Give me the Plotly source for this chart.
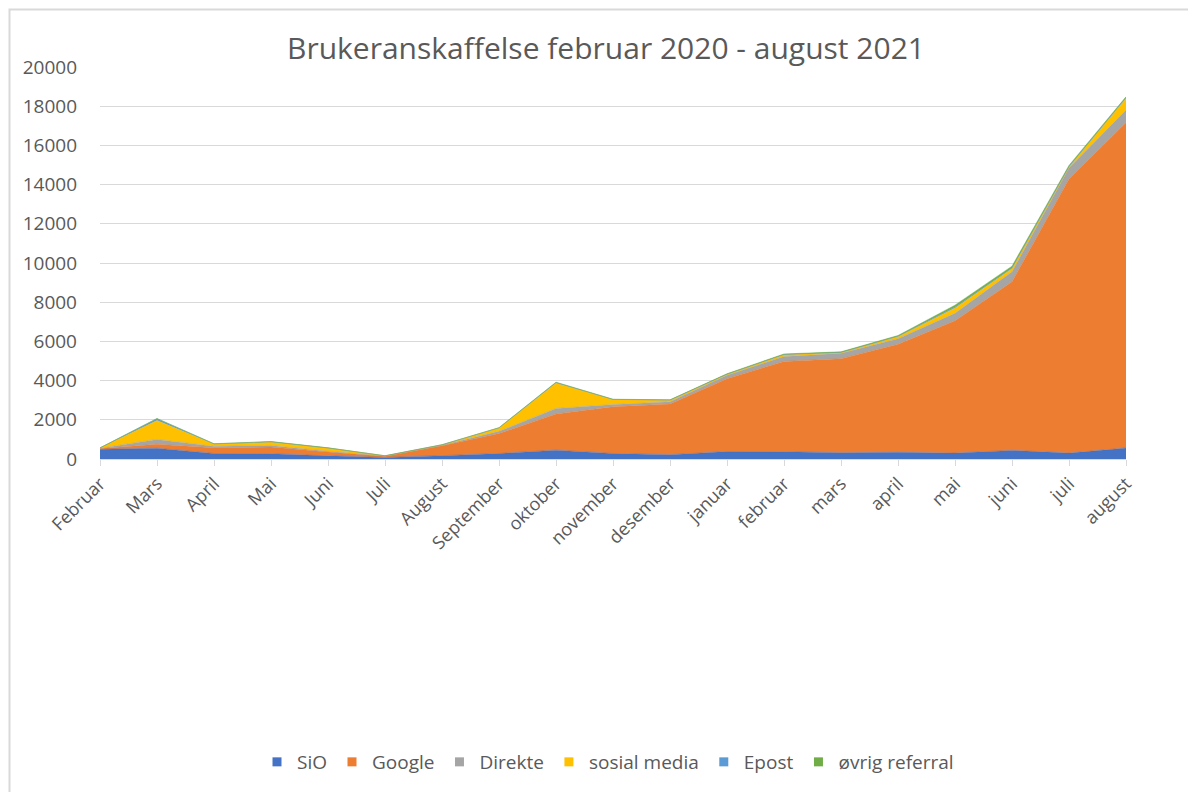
import plotly.graph_objects as go

months = ["Februar", "Mars", "April", "Mai", "Juni", "Juli", "August", "September",
          "oktober", "november", "desember", "januar", "februar", "mars", "april",
          "mai", "juni", "juli", "august"]

sio = [500, 550, 280, 270, 160, 80, 170, 280, 450, 280, 220, 380, 370, 320, 340, 300, 440, 300, 560]
google = [30, 200, 300, 340, 200, 60, 500, 1020, 1850, 2380, 2580, 3720, 4610, 4800, 5510, 6750, 8600, 13990, 16610]
direkte = [20, 250, 70, 80, 40, 10, 30, 110, 280, 120, 120, 170, 250, 270, 290, 380, 510, 560, 630]
sosial = [10, 960, 110, 180, 160, 10, 20, 170, 1300, 250, 80, 50, 90, 40, 110, 280, 170, 50, 610]
epost = [5, 90, 10, 10, 5, 3, 5, 10, 20, 10, 10, 10, 10, 10, 10, 40, 30, 20, 30]
ovrig = [5, 20, 10, 10, 5, 3, 5, 10, 20, 10, 10, 20, 30, 30, 40, 100, 90, 60, 40]

series = [
    ("SiO", sio, "#4472C4"),
    ("Google", google, "#ED7D31"),
    ("Direkte", direkte, "#A5A5A5"),
    ("sosial media", sosial, "#FFC000"),
    ("Epost", epost, "#5B9BD5"),
    ("øvrig referral", ovrig, "#70AD47"),
]

FONT = "Open Sans"
GREY = "#595959"

fig = go.Figure()
for name, vals, col in series:
    fig.add_trace(go.Scatter(
        x=months, y=vals, name=name, stackgroup="one", mode="lines",
        line=dict(width=0.5, color=col), fillcolor=col, showlegend=False,
    ))
for name, vals, col in series:
    fig.add_trace(go.Scatter(
        x=[None], y=[None], name=name, mode="markers",
        marker=dict(symbol="square", size=9, color=col), showlegend=True,
    ))

# page offset (body margin) of 8px
OFF = 8
W, H = 1196 - OFF, 792 - OFF
# target screen coordinates of plot area
L, R, T, B = 100, 1126, 67, 459

def cx(px):
    return (px - OFF) / W

def cy(py):
    return 1 - (py - OFF) / H

fig.update_layout(
    width=W, height=H,
    margin=dict(l=L - OFF, r=W - (R - OFF), t=T - OFF, b=H - (B - OFF), autoexpand=False),
    paper_bgcolor="white", plot_bgcolor="white",
    font=dict(family=FONT, color=GREY, size=17),
    title=dict(text="Brukeranskaffelse februar 2020 - august 2021",
               font=dict(family=FONT, size=30, color=GREY),
               x=cx(606), xanchor="center", xref="container",
               y=cy(48), yanchor="middle", yref="container"),
    xaxis=dict(type="category", range=[0, 18], tickangle=-45,
               showline=True, linecolor="#d9d9d9", linewidth=1,
               ticks="outside", ticklen=6, tickcolor="#d9d9d9",
               showgrid=False, tickfont=dict(size=18, color=GREY),
               automargin=False),
    yaxis=dict(range=[0, 20000], dtick=2000, tickformat="d", showgrid=True,
               gridcolor="#d9d9d9", gridwidth=1, zeroline=False,
               showline=False, tickfont=dict(size=19, color=GREY),
               ticklabelstandoff=22, automargin=False),
    legend=dict(orientation="h", x=cx(608), xref="container", xanchor="center",
                y=cy(762), yref="container", yanchor="middle",
                font=dict(size=19, color=GREY), itemwidth=30,
                traceorder="normal", tracegroupgap=0),
    showlegend=True,
)

fig.add_shape(type="rect", xref="paper", yref="paper",
              x0=(9.5 - L) / (R - L), x1=(1220 - L) / (R - L),
              y0=(B - 820) / (B - T), y1=(B - 9.5) / (B - T),
              line=dict(color="#d9d9d9", width=2), fillcolor="rgba(0,0,0,0)",
              layer="below")

fig.write_html("out.html")
